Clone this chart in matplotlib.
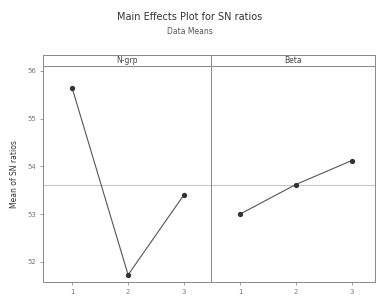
import matplotlib
matplotlib.use("Agg")
import matplotlib.pyplot as plt

levels = [1, 2, 3]
factors = ["N-grp", "Beta"]
means_ngrp = [55.64, 51.73, 53.41]
means_beta = [53.00, 53.62, 54.12]
overall_mean = 53.60
yticks = [52, 53, 54, 55, 56]
ytick_labels = ["52", "53", "54", "55", "56"]

W, H = 379, 306
fig = plt.figure(figsize=(W / 100, H / 100), dpi=100)
fig.patch.set_facecolor("white")

def fx(px):
    return px / W

def fy(py):
    return 1 - py / H

panels = [(43, 211), (211, 375)]
series = [means_ngrp, means_beta]
edge = "#8a8a8a"
for i, ((x0, x1), name, vals) in enumerate(zip(panels, factors, series)):
    ax = fig.add_axes([fx(x0), fy(282), fx(x1 - x0), fy(66) - fy(282)])
    ax.set_xlim(0.48, 3.48 if i == 0 else 3.42)
    ax.set_ylim(51.58, 56.10)
    ax.axhline(overall_mean, color="#c8c8c8", lw=0.8, zorder=1)
    ax.plot(levels, vals, color="#555555", lw=0.8, marker="o", ms=2.8,
            mfc="#333333", mec="#333333", zorder=3)
    ax.set_xticks(levels)
    ax.set_xticklabels([str(l) for l in levels], fontsize=5, color="#555555")
    if i == 0:
        ax.set_yticks(yticks)
        ax.set_yticklabels(ytick_labels, fontsize=5, color="#555555")
        ax.set_ylabel("Mean of SN ratios", fontsize=5.5, color="#333333", labelpad=6)
    else:
        ax.set_yticks([])
    ax.tick_params(length=2, width=0.5, colors="#777777", pad=3)
    for s in ax.spines.values():
        s.set_color(edge)
        s.set_linewidth(0.7)
    # strip
    sax = fig.add_axes([fx(x0), fy(66), fx(x1 - x0), fy(55) - fy(66)])
    sax.set_xticks([])
    sax.set_yticks([])
    for s in sax.spines.values():
        s.set_color(edge)
        s.set_linewidth(0.7)
    sax.text(0.5, 0.5, name, ha="center", va="center", fontsize=5.5,
             color="#444444", transform=sax.transAxes)

fig.text(0.5, fy(17), "Main Effects Plot for SN ratios", ha="center", va="center",
         fontsize=7, color="#333333")
fig.text(0.5, fy(31), "Data Means", ha="center", va="center", fontsize=5.5,
         color="#555555")

fig.savefig("out.png", dpi=100, facecolor="white")
